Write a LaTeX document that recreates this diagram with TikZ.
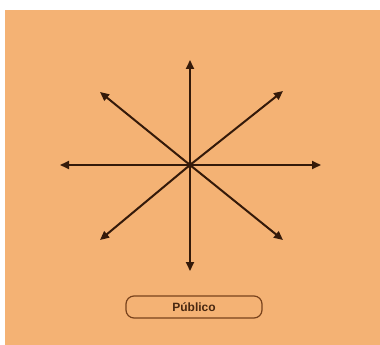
\documentclass[tikz,border=0pt]{standalone}
\usepackage{fontspec}
\setmainfont{Liberation Sans}
\usepackage{xcolor}
\usepackage{tikz}
\usetikzlibrary{arrows.meta,positioning}

\definecolor{bgorange}{RGB}{244,178,116}
\definecolor{arrowbrown}{RGB}{52,26,10}
\definecolor{boxbrown}{RGB}{120,66,28}

\begin{document}
\begin{tikzpicture}[x=1pt,y=-1pt,
  ray/.style={draw=arrowbrown, line width=2pt, -{Triangle[length=9pt,width=8pt]}},
  hub/.style={circle, fill=arrowbrown, inner sep=0pt, minimum size=6pt},
  pill/.style={draw=boxbrown, line width=1.2pt, rounded corners=8pt, minimum width=136pt, minimum height=22pt, font=\fontsize{12}{14}\selectfont\bfseries, text=boxbrown!60!black}]
\fill[white] (0,0) rectangle (380,345);
\fill[bgorange] (5,10) rectangle (380,345);
\useasboundingbox (0,0) rectangle (380,345);
\node[hub] (c) at (190,165) {};
% tips of the rays
\coordinate (n) at (190,60);
\coordinate (s) at (190,271);
\coordinate (w) at (60,165);
\coordinate (e) at (321,165);
\coordinate (nw) at (100,92);
\coordinate (ne) at (283,91);
\coordinate (sw) at (100,240);
\coordinate (se) at (283,240);
\foreach \t in {n,s,w,e,nw,ne,sw,se}
  \draw[ray] (c.center) -- (\t);
\node[pill] (pub) at (194,307) {Público};
\end{tikzpicture}
\end{document}
